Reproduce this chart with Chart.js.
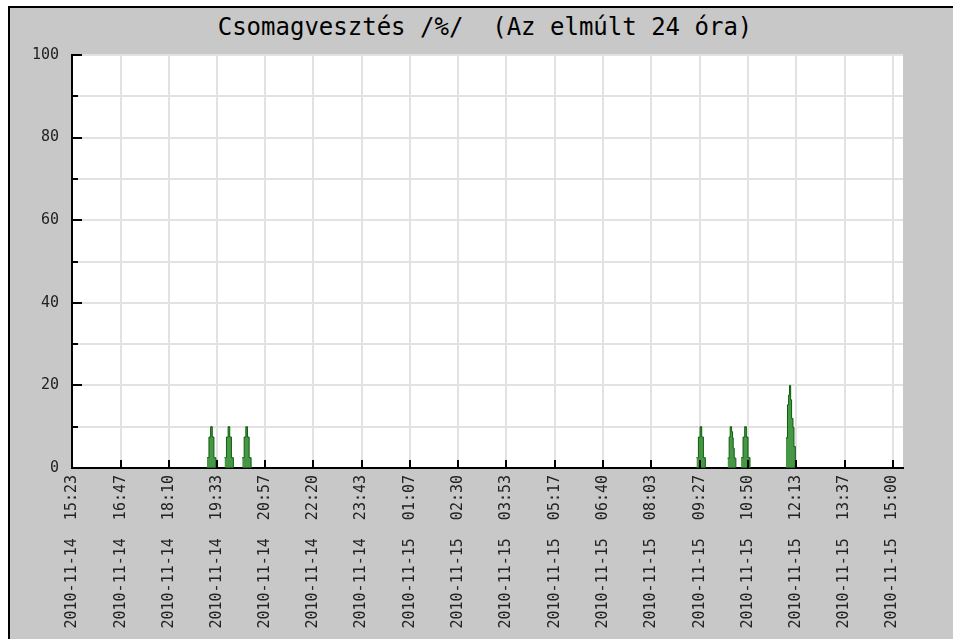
<!DOCTYPE html>
<html>
<head>
<meta charset="utf-8">
<script src="https://cdn.jsdelivr.net/npm/chart.js@4"></script>
<style>
  html, body { margin: 0; padding: 0; background: #fff; }
  #frame {
    position: absolute; left: 8px; top: 6px; right: 0; bottom: 0;
    border-left: 2px solid #000; border-top: 2px solid #000;
    background: #c8c8c8;
  }
  #title {
    position: absolute; left: 0; width: 970px; top: 13px;
    text-align: center; font: 24px 'DejaVu Sans Mono', monospace; color: #000;
    white-space: pre;
  }
  #wrap { position: absolute; left: 0; top: 0; width: 953px; height: 639px; }
</style>
</head>
<body>
<div id="frame"></div>
<div id="title">Csomagvesztés /%/  (Az elmúlt 24 óra)</div>
<div id="wrap"><canvas id="lossChart"></canvas></div>
<script>
// ----- Data -----
const tickLabels = [
  '2010-11-14  15:23', '2010-11-14  16:47', '2010-11-14  18:10', '2010-11-14  19:33',
  '2010-11-14  20:57', '2010-11-14  22:20', '2010-11-14  23:43', '2010-11-15  01:07',
  '2010-11-15  02:30', '2010-11-15  03:53', '2010-11-15  05:17', '2010-11-15  06:40',
  '2010-11-15  08:03', '2010-11-15  09:27', '2010-11-15  10:50', '2010-11-15  12:13',
  '2010-11-15  13:37', '2010-11-15  15:00',
];
const xMaxMinutes = 1435;   // window length shown, minutes from the first label

// packet loss samples: minutes since 2010-11-14 15:23, loss in %
const lossMinutes = [
  0,
  233.1, 236.5, 239.4, 242.2, 245.1, 248.5,
  263.3, 266.7, 269.6, 272.4, 275.3, 278.7,
  293.9, 297.3, 300.2, 303.0, 305.9, 309.3,
  1078.3, 1081.7, 1084.6, 1087.4, 1090.3, 1093.7,
  1132.0, 1134.8, 1136.6, 1139.0, 1140.7, 1141.8, 1143.5, 1146.4,
  1155.4, 1158.8, 1161.7, 1164.5, 1167.4, 1170.8,
  1232.7, 1235.5, 1237.5, 1239.0, 1241.0, 1242.6, 1245.0, 1246.7, 1249.1,
  1435,
];
const lossValues = [
  0,
  2.5, 7.5, 10, 7.5, 2.5, 0,
  2.5, 7.5, 10, 7.5, 2.5, 0,
  2.5, 7.5, 10, 7.5, 2.5, 0,
  2.5, 7.5, 10, 7.5, 2.5, 0,
  2.4, 7.5, 10, 8.8, 7.3, 4.8, 2.4, 0,
  2.5, 7.5, 10, 7.5, 2.5, 0,
  7.3, 15.3, 17.7, 20, 16.5, 12, 9.8, 5.2, 0,
  0,
];

// ----- Helpers -----
function labelToDate(lbl) {
  const [d, t] = lbl.trim().split(/\s+/);
  const [Y, M, D] = d.split('-').map(Number);
  const [h, m] = t.split(':').map(Number);
  return Date.UTC(Y, M - 1, D, h, m);
}
const t0 = labelToDate(tickLabels[0]);
const tickMinutes = tickLabels.map(l => (labelToDate(l) - t0) / 60000);

const monoFont = { family: "'DejaVu Sans Mono', monospace", size: 15 };

// white plot background + inward black tick marks
const plotDecor = {
  id: 'plotDecor',
  beforeDraw(chart) {
    const a = chart.chartArea, ctx = chart.ctx;
    ctx.save();
    ctx.fillStyle = '#fff';
    ctx.fillRect(a.left, a.top, a.right - a.left, a.bottom - a.top);
    ctx.restore();
  },
  afterDatasetsDraw(chart) {
    const a = chart.chartArea, ctx = chart.ctx;
    const xs = chart.scales.x, ys = chart.scales.y;
    ctx.save();
    ctx.strokeStyle = '#000';
    ctx.lineWidth = 2;
    ctx.beginPath();
    ys.ticks.forEach(t => {
      const py = Math.round(ys.getPixelForValue(t.value));
      ctx.moveTo(a.left, py);
      ctx.lineTo(a.left + (t.value % 20 === 0 ? 10 : 6), py);
    });
    xs.ticks.forEach(t => {
      const px = Math.round(xs.getPixelForValue(t.value));
      ctx.moveTo(px, a.bottom);
      ctx.lineTo(px, a.bottom - 8);
    });
    ctx.stroke();
    ctx.restore();
  },
};

new Chart(document.getElementById('lossChart'), {
  type: 'line',
  data: {
    datasets: [{
      label: 'Csomagvesztés',
      data: lossMinutes.map((m, i) => ({ x: m, y: lossValues[i] })),
      stepped: true,
      fill: 'origin',
      backgroundColor: 'rgba(30,128,30,0.82)',
      borderColor: '#0a5e0a',
      borderWidth: 1,
      pointRadius: 0,
      segment: {
        borderColor: c => (c.p0.parsed.y === 0 ? 'rgba(0,0,0,0)' : undefined),
      },
    }],
  },
  plugins: [plotDecor],
  options: {
    responsive: true,
    maintainAspectRatio: false,
    animation: false,
    events: [],
    layout: { padding: { top: 55, right: 50, left: 0, bottom: 0 } },
    plugins: { legend: { display: false }, tooltip: { enabled: false }, title: { display: false } },
    scales: {
      x: {
        type: 'linear',
        min: 0,
        max: xMaxMinutes,
        afterBuildTicks: s => { s.ticks = tickMinutes.map(v => ({ value: v })); },
        afterFit: s => { s.height = 171; },
        ticks: {
          autoSkip: false,
          minRotation: 90,
          maxRotation: 90,
          padding: 7,
          color: '#222',
          font: monoFont,
          callback: (v, i) => tickLabels[i],
        },
        grid: { color: '#e2e2e2', lineWidth: 2, drawTicks: false },
        border: { display: true, color: '#000', width: 2 },
      },
      y: {
        min: 0,
        max: 100,
        afterFit: s => { s.width = 72; },
        ticks: {
          stepSize: 10,
          padding: 13,
          color: '#222',
          font: monoFont,
          callback: v => (v % 20 === 0 ? v : ''),
        },
        grid: { color: '#e2e2e2', lineWidth: 2, drawTicks: false },
        border: { display: true, color: '#000', width: 2 },
      },
    },
  },
});
</script>
</body>
</html>
